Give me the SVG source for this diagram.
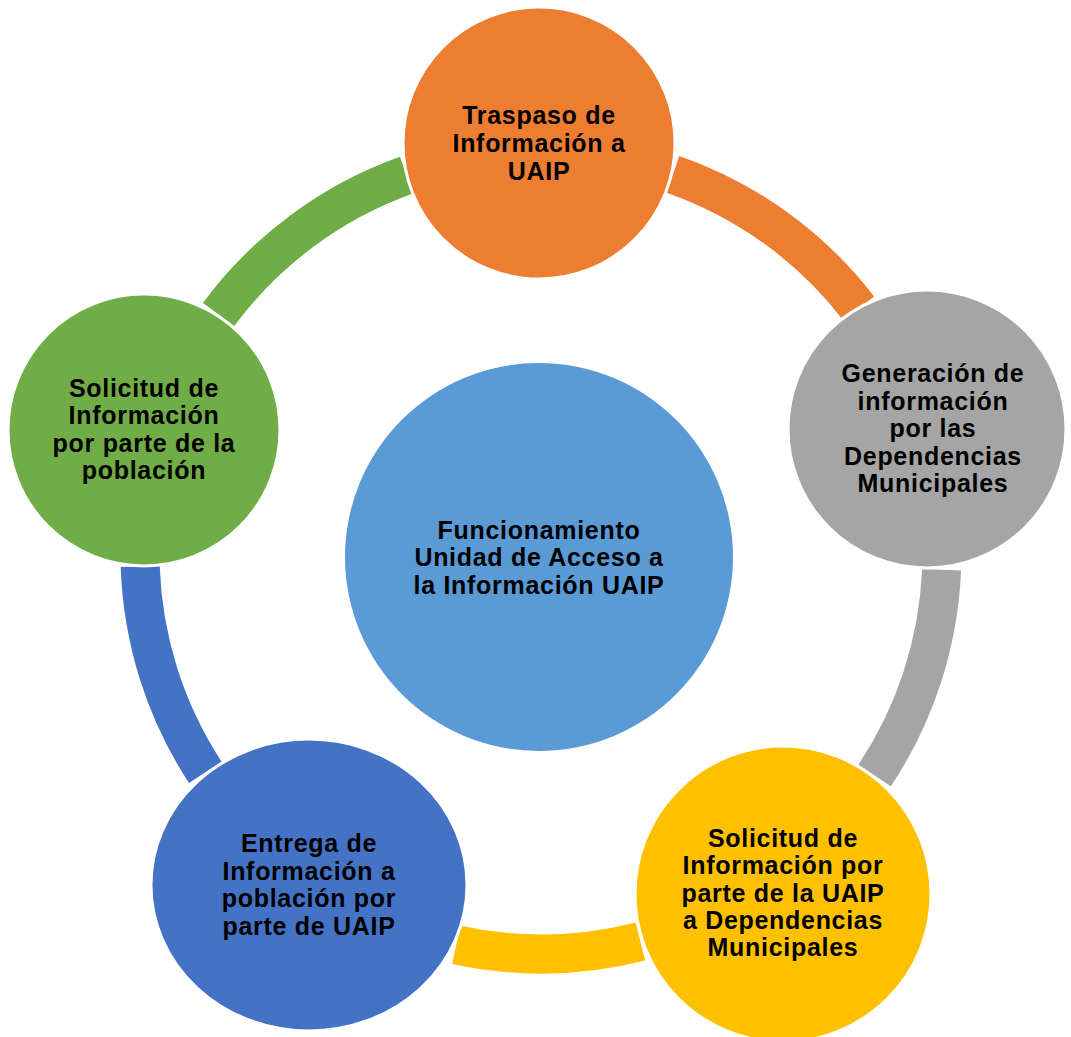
<svg xmlns="http://www.w3.org/2000/svg" width="1071" height="1037" viewBox="0 0 1071 1037">
<style>
.band{fill:none;stroke-width:39;stroke-linecap:butt}
.node{stroke:#FFFFFF;stroke-width:3}
.lbl{font-family:"Liberation Sans",Arial,sans-serif;font-weight:bold;font-size:25px;letter-spacing:0.7px;fill:#000000;text-anchor:middle}
</style>
<rect width="1071" height="1037" fill="#FFFFFF"/>
<g id="connectors">
<path class="band" stroke="#70AD47" d="M218.6,314.5 A401,401 0 0 1 406.5,175.2"/>
<path class="band" stroke="#ED7D31" d="M672.9,174.3 A401,401 0 0 1 858.7,308.4"/>
<path class="band" stroke="#A5A5A5" d="M941.6,569.8 A401,401 0 0 1 874.6,775.5"/>
<path class="band" stroke="#FFC000" d="M640.4,941.5 A401,401 0 0 1 456.3,944.9"/>
<path class="band" stroke="#4472C4" d="M205.3,772.3 A401,401 0 0 1 140.2,566.3"/>
</g>
<g id="node-traspaso">
<circle class="node" cx="539" cy="143" r="136" fill="#ED7D31"/>
<text class="lbl"><tspan x="539" y="123.5">Traspaso de</tspan><tspan x="539" y="151.5">Información a</tspan><tspan x="539" y="180">UAIP</tspan></text>
</g>
<g id="node-generacion">
<circle class="node" cx="927" cy="429" r="139" fill="#A5A5A5"/>
<text class="lbl"><tspan x="933" y="382">Generación de</tspan><tspan x="933" y="409.5">información</tspan><tspan x="933" y="437">por las</tspan><tspan x="933" y="464.5">Dependencias</tspan><tspan x="933" y="492">Municipales</tspan></text>
</g>
<g id="node-solicitud-uaip">
<circle class="node" cx="783" cy="894" r="148" fill="#FFC000"/>
<text class="lbl"><tspan x="783" y="846.5">Solicitud de</tspan><tspan x="783" y="874">Información por</tspan><tspan x="783" y="901.5">parte de la UAIP</tspan><tspan x="783" y="928.5">a Dependencias</tspan><tspan x="783" y="956">Municipales</tspan></text>
</g>
<g id="node-entrega">
<ellipse class="node" cx="309" cy="885" rx="158" ry="146" fill="#4472C4"/>
<text class="lbl"><tspan x="309" y="851.5">Entrega de</tspan><tspan x="309" y="879.5">Información a</tspan><tspan x="309" y="907">población por</tspan><tspan x="309" y="935">parte de UAIP</tspan></text>
</g>
<g id="node-solicitud-poblacion">
<circle class="node" cx="144" cy="430" r="136" fill="#70AD47"/>
<text class="lbl"><tspan x="144" y="396.5">Solicitud de</tspan><tspan x="144" y="424">Información</tspan><tspan x="144" y="451.5">por parte de la</tspan><tspan x="144" y="479">población</tspan></text>
</g>
<g id="node-centro">
<circle cx="539" cy="557" r="194" fill="#5B9BD5"/>
<text class="lbl"><tspan x="539" y="538.5">Funcionamiento</tspan><tspan x="539" y="565.5">Unidad de Acceso a</tspan><tspan x="539" y="593.5">la Información UAIP</tspan></text>
</g>
</svg>
